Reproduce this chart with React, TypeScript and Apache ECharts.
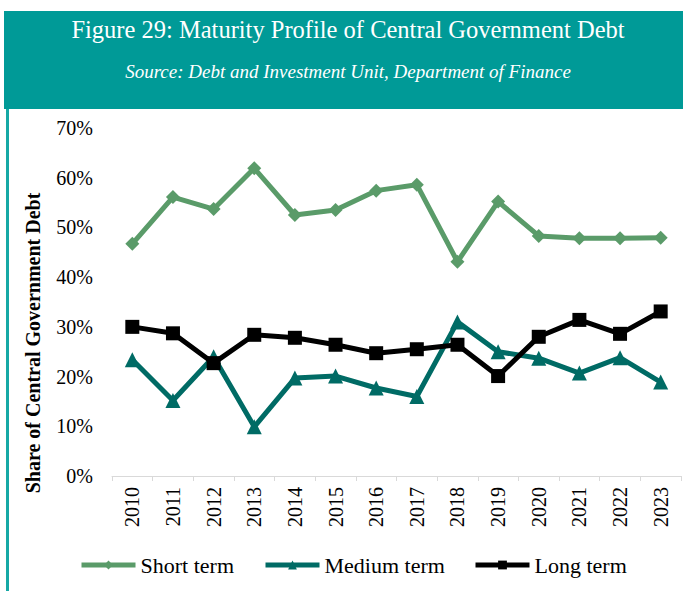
import React, { useEffect, useRef } from "react";
import * as echarts from "echarts";

const years = ["2010", "2011", "2012", "2013", "2014", "2015", "2016", "2017", "2018", "2019", "2020", "2021", "2022", "2023"];
const shortTerm = [46.7, 56.1, 53.7, 61.9, 52.5, 53.5, 57.4, 58.6, 43.1, 55.2, 48.3, 47.8, 47.8, 47.9];
const mediumTerm = [23.4, 15.2, 24.0, 9.9, 19.7, 20.1, 17.7, 16.0, 31.0, 25.0, 23.7, 20.7, 23.8, 18.9];
const longTerm = [30.0, 28.7, 22.7, 28.4, 27.8, 26.4, 24.7, 25.5, 26.4, 20.1, 28.0, 31.4, 28.6, 33.1];
const seriesNames = ["Short term", "Medium term", "Long term"];

const titleText = "Figure 29: Maturity Profile of Central Government Debt";
const sourceText = "Source: Debt and Investment Unit, Department of Finance";
const yAxisTitle = "Share of Central Government Debt";

const TEAL = "#009A97";
const SERIF = "Liberation Serif";
const COLORS = ["#5A9B69", "#006B65", "#000000"];

export default function App() {
  const ref = useRef<HTMLDivElement>(null);
  useEffect(() => {
    if (!ref.current) return;
    const chart = echarts.init(ref.current, null, { renderer: "svg" });
    const legendLefts = [79, 263, 473];
    chart.setOption({
      animation: false,
      backgroundColor: "#ffffff",
      textStyle: { fontFamily: SERIF },
      graphic: [
        { type: "rect", shape: { x: 4, y: 11, width: 679, height: 98 }, style: { fill: TEAL }, silent: true },
        { type: "rect", shape: { x: 6, y: 109, width: 3, height: 482 }, style: { fill: "#16A8A5" }, silent: true },
        {
          type: "text",
          x: 348,
          y: 29,
          style: { text: titleText, fill: "#ffffff", font: `24.5px ${SERIF}`, align: "center", verticalAlign: "middle" },
        },
        {
          type: "text",
          x: 348,
          y: 71,
          style: { text: sourceText, fill: "#ffffff", font: `italic 19px ${SERIF}`, align: "center", verticalAlign: "middle" },
        },
        {
          type: "text",
          x: 33,
          y: 343,
          rotation: Math.PI / 2,
          style: { text: yAxisTitle, fill: "#000000", font: `bold 20px ${SERIF}`, align: "center", verticalAlign: "middle" },
        },
      ],
      legend: seriesNames.map((n, i) => ({
        left: legendLefts[i],
        top: 554,
        padding: 0,
        itemWidth: 54,
        itemHeight: 11,
        itemGap: 2,
        lineStyle: { width: 5 },
        textStyle: { fontFamily: SERIF, fontSize: 22, color: "#000" },
        data: [n],
      })),
      grid: { left: 112, right: 2, top: 128, bottom: 115, containLabel: false },
      xAxis: {
        type: "category",
        data: years,
        boundaryGap: true,
        axisLine: { show: true, lineStyle: { color: "#D9D9D9", width: 1 } },
        axisTick: { show: true, alignWithLabel: false, length: 5, lineStyle: { color: "#D9D9D9" } },
        axisLabel: { rotate: 90, margin: 11, fontFamily: SERIF, fontSize: 20, color: "#000" },
      },
      yAxis: {
        type: "value",
        min: 0,
        max: 70,
        interval: 10,
        axisLine: { show: false },
        axisTick: { show: false },
        splitLine: { show: false },
        axisLabel: { formatter: "{value}%", margin: 19, fontFamily: SERIF, fontSize: 20, color: "#000" },
      },
      series: [
        {
          name: seriesNames[0],
          type: "line",
          data: shortTerm,
          symbol: "diamond",
          symbolSize: 14,
          lineStyle: { width: 5, color: COLORS[0] },
          itemStyle: { color: COLORS[0] },
        },
        {
          name: seriesNames[1],
          type: "line",
          data: mediumTerm,
          symbol: "triangle",
          symbolSize: 15,
          lineStyle: { width: 5, color: COLORS[1] },
          itemStyle: { color: COLORS[1] },
        },
        {
          name: seriesNames[2],
          type: "line",
          data: longTerm,
          symbol: "rect",
          symbolSize: 14,
          lineStyle: { width: 5, color: COLORS[2] },
          itemStyle: { color: COLORS[2] },
        },
      ],
    });
    return () => chart.dispose();
  }, []);
  return (
    <div style={{ position: "fixed", left: 0, top: 0, width: 683, height: 591, background: "#fff" }}>
      <div ref={ref} style={{ width: 683, height: 591 }} />
    </div>
  );
}
